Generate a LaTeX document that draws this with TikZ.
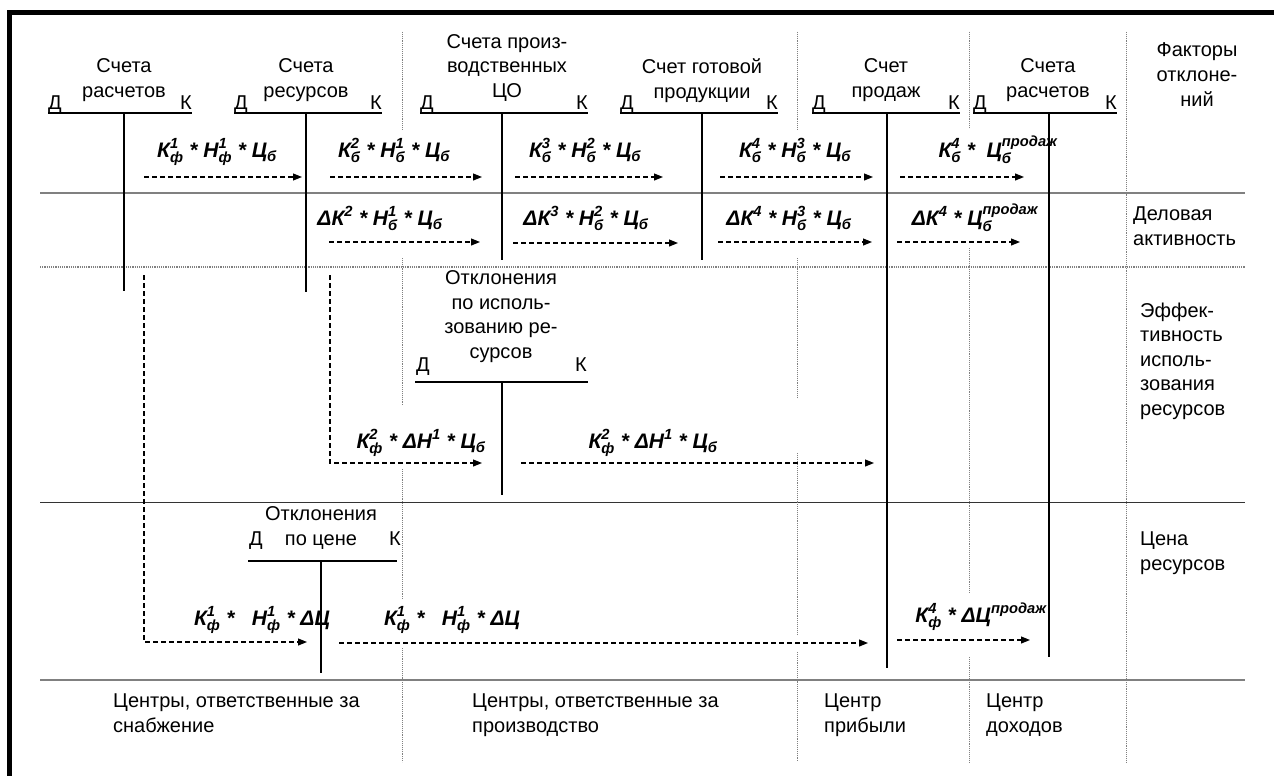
\documentclass[tikz,border=0pt]{standalone}
\usepackage{amsmath}
\usepackage{fontspec}
\setmainfont{Liberation Sans}
\usetikzlibrary{arrows.meta}

% index letters: base, subscript, superscript
\newcommand\fk[3]{$\text{#1}^{\text{#3}}_{\text{#2}}$}
\newcommand\fd[2]{$\text{#1}_{\text{#2}}$}
\newcommand\fu[2]{$\text{#1}^{\text{#2}}$}

\begin{document}
\begin{tikzpicture}[x=1pt,y=-1pt,
    lbl/.style={font=\fontsize{20}{24.5}\selectfont, inner sep=0pt, align=center},
    lbll/.style={lbl, align=left},
    fml/.style={font=\fontsize{21}{24}\selectfont\bfseries\itshape, inner sep=0pt, anchor=base},
    flow/.style={line width=1.1pt, dash pattern=on 5pt off 3pt, -{Triangle[length=9pt,width=7pt]}},
    tacc/.style={line width=1.3pt},
    row/.style={gray, line width=1.2pt},
    col/.style={gray, line width=0.9pt, densely dotted}]
  \useasboundingbox (0,0) rectangle (1274,776);
  \draw[line width=4.5pt] (9.5,776) -- (9.5,12.5) -- (1274,12.5);

  % rows and columns
  \draw[row] (40,193) -- (1245,193);
  \draw[row, densely dotted] (40,267) -- (1245,267);
  \draw[row, black!80, line width=1pt] (40,502) -- (1245,502);
  \draw[row] (40,680) -- (1245,680);
  \foreach \x/\a/\b in {402/32/130, 402/258/406, 402/469/600, 402/648/762,
      797/32/130, 797/258/397, 797/453/634, 797/652/762,
      969/32/128, 969/248/592, 969/657/762, 1126/32/762}
    \draw[col] (\x,\a) -- (\x,\b);

  % accounts
  \foreach \n/\l/\m/\r/\e in {ras/48/124/192/291, res/234/306/382/292,
      pco/420/502/588/260, gp/620/702/778/260, prod/812/887/960/668,
      ras2/973/1049/1117/657} {
    \draw[tacc] (\l,113) -- (\r,113);
    \draw[tacc] (\m,113) -- (\m,\e);
    \node[lbl, anchor=base west] (\n-d) at (\l,109) {Д};
    \node[lbl, anchor=base east] (\n-k) at (\r,109) {К};
  }
  \node[lbl, anchor=base] (ras-t) at (124,97) {Счета\\расчетов};
  \node[lbl, anchor=base] (res-t) at (306,97) {Счета\\ресурсов};
  \node[lbl, anchor=base] (pco-t) at (507,97) {Счета произ-\\водственных\\ЦО};
  \node[lbl, anchor=base] (gp-t) at (702,98) {Счет готовой\\продукции};
  \node[lbl, anchor=base] (prod-t) at (886,97) {Счет\\продаж};
  \node[lbl, anchor=base] (ras2-t) at (1048,97) {Счета\\расчетов};

  \node[lbl, anchor=base] (use-t) at (501,358) {Отклонения\\по исполь-\\зованию ре-\\сурсов};
  \node[lbl, anchor=base west] (use-d) at (416,371) {Д};
  \node[lbl, anchor=base east] (use-k) at (587,371) {К};
  \draw[tacc] (415,382) -- (588,382);
  \draw[tacc] (502,382) -- (502,495);

  \node[lbl, anchor=base] (prc-t) at (321,545) {Отклонения\\по цене};
  \node[lbl, anchor=base west] (prc-d) at (249,545) {Д};
  \node[lbl, anchor=base east] (prc-k) at (401,545) {К};
  \draw[tacc] (248,561) -- (397,561);
  \draw[tacc] (321,561) -- (321,673);

  % formulas
  \node[fml] (f11) at (217,157) {\fk{К}{ф}{1} * \fk{Н}{ф}{1} * \fd{Ц}{б}};
  \node[fml] (f12) at (394,157) {\fk{К}{б}{2} * \fk{Н}{б}{1} * \fd{Ц}{б}};
  \node[fml] (f13) at (585,157) {\fk{К}{б}{3} * \fk{Н}{б}{2} * \fd{Ц}{б}};
  \node[fml] (f14) at (795,157) {\fk{К}{б}{4} * \fk{Н}{б}{3} * \fd{Ц}{б}};
  \node[fml] (f15) at (998,157) {\fk{К}{б}{4} * \ \fk{Ц}{б}{продаж}};
  \node[fml] (f21) at (380,225) {\fu{ΔК}{2} * \fk{Н}{б}{1} * \fd{Ц}{б}};
  \node[fml] (f22) at (586,225) {\fu{ΔК}{3} * \fk{Н}{б}{2} * \fd{Ц}{б}};
  \node[fml] (f23) at (789,225) {\fu{ΔК}{4} * \fk{Н}{б}{3} * \fd{Ц}{б}};
  \node[fml] (f24) at (975,225) {\fu{ΔК}{4} * \fk{Ц}{б}{продаж}};
  \node[fml] (f31) at (421,448) {\fk{К}{ф}{2} * \fu{ΔН}{1} * \fd{Ц}{б}};
  \node[fml] (f32) at (653,448) {\fk{К}{ф}{2} * \fu{ΔН}{1} * \fd{Ц}{б}};
  \node[fml] (f41) at (262,625) {\fk{К}{ф}{1} * \ \ \fk{Н}{ф}{1} * ΔЦ};
  \node[fml] (f42) at (452,625) {\fk{К}{ф}{1} * \ \ \fk{Н}{ф}{1} * ΔЦ};
  \node[fml] (f43) at (981,622) {\fk{К}{ф}{4} * \fu{ΔЦ}{продаж}};

  % flows
  \foreach \i/\s/\e/\y in {11/144/302/177, 12/330/482/177, 13/515/663/177,
      14/720/873/177, 15/900/1024/177, 21/329/480/242, 22/513/678/243,
      23/718/872/242, 24/897/1020/242, 32/521/874/463, 42/339/868/643,
      43/897/1030/640} {
    \coordinate (a\i s) at (\s,\y);
    \coordinate (a\i e) at (\e,\y);
    \draw[flow] (a\i s) -- (a\i e);
  }
  \coordinate (a31s) at (330,275);
  \coordinate (a31e) at (482,463);
  \draw[flow] (a31s) |- (a31e);
  \coordinate (a41s) at (144,275);
  \coordinate (a41e) at (307,642);
  \draw[flow] (a41s) |- (a41e);

  % factors and centres
  \node[lbl, anchor=base] (fac) at (1197,106) {Факторы\\отклоне-\\ний};
  \node[lbll, anchor=base west] (biz) at (1133,245) {Деловая\\активность};
  \node[lbll, anchor=base west] (eff) at (1140,415) {Эффек-\\тивность\\исполь-\\зования\\ресурсов};
  \node[lbll, anchor=base west] (prc) at (1140,570) {Цена\\ресурсов};
  \node[lbll, anchor=base west] (c-sup) at (113,732) {Центры, ответственные за\\снабжение};
  \node[lbll, anchor=base west] (c-pro) at (472,732) {Центры, ответственные за\\производство};
  \node[lbll, anchor=base west] (c-prf) at (824,732) {Центр\\прибыли};
  \node[lbll, anchor=base west] (c-inc) at (986,732) {Центр\\доходов};
\end{tikzpicture}
\end{document}
